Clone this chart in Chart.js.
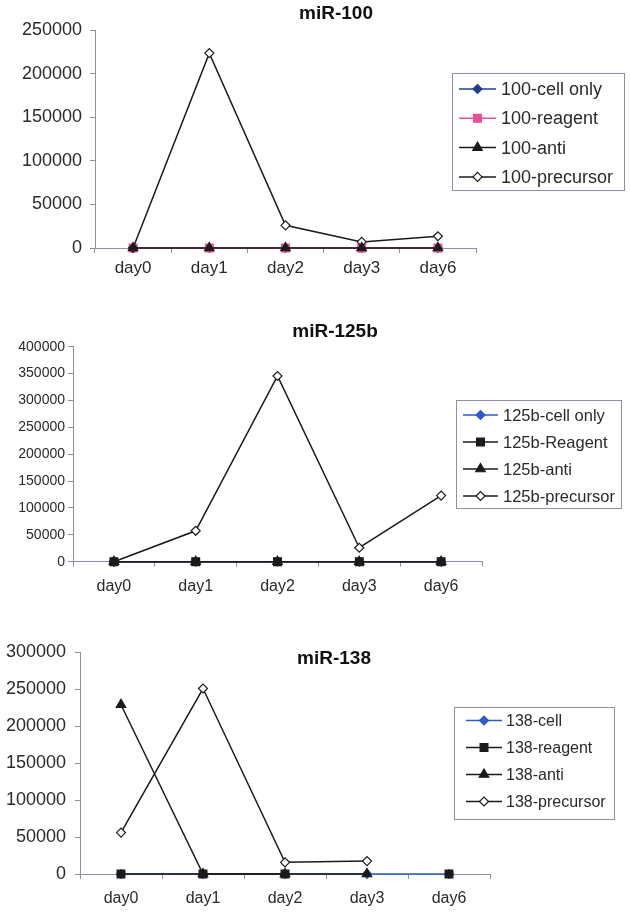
<!DOCTYPE html>
<html><head><meta charset="utf-8">
<script src="https://cdn.jsdelivr.net/npm/chart.js@4.4.1/dist/chart.umd.min.js"></script>
<style>
html,body{margin:0;padding:0;background:#fff;width:630px;height:912px;overflow:hidden;}
canvas{position:absolute;left:0;}
</style></head>
<body>
<canvas id="c1" width="630" height="300" style="top:0px"></canvas>
<canvas id="c2" width="630" height="300" style="top:300px"></canvas>
<canvas id="c3" width="630" height="312" style="top:600px"></canvas>
<script>
// ---------- data ----------
const days = ['day0', 'day1', 'day2', 'day3', 'day6'];

const title100 = 'miR-100';
const labels100 = ['100-cell only', '100-reagent', '100-anti', '100-precursor'];
const cellOnly100 = [0, 0, 0, 0, 0];
const reagent100 = [0, 0, 0, 0, 0];
const anti100 = [0, 0, 0, 0, 0];
const precursor100 = [0, 223500, 26000, 7000, 13500];
const yTicks100 = [0, 50000, 100000, 150000, 200000, 250000];

const title125 = 'miR-125b';
const labels125 = ['125b-cell only', '125b-Reagent', '125b-anti', '125b-precursor'];
const cellOnly125 = [0, 0, 0, 0, 0];
const reagent125 = [0, 0, 0, 0, 0];
const anti125 = [0, 0, 0, 0, 0];
const precursor125 = [0, 57500, 345500, 26000, 123000];
const yTicks125 = [0, 50000, 100000, 150000, 200000, 250000, 300000, 350000, 400000];

const title138 = 'miR-138';
const labels138 = ['138-cell', '138-reagent', '138-anti', '138-precursor'];
const cell138 = [0, 0, 0, 0, 0];
const reagent138 = [0, 0, 0, null, 0];
const anti138 = [229000, 0, 0, 0, null];
const precursor138 = [56000, 251000, 15800, 17500, null];
const yTicks138 = [0, 50000, 100000, 150000, 200000, 250000, 300000];

// ---------- styling ----------
const FONT = "'Liberation Sans', Arial, sans-serif";
const AXIS = '#8a92a0';
const TEXT = '#2a2a2a';
const BLACK = '#1a1a1a';
const NAVY = '#223f8e';
const BLUE = '#2d5cc6';
const PINK = '#ec4f9c';

function ds(label, data, color, pointStyle, fill, radius, order) {
  return {
    label, data, order, clip: false,
    borderColor: color, backgroundColor: fill,
    pointBackgroundColor: fill, pointBorderColor: color,
    pointStyle, pointRadius: radius, pointHoverRadius: radius,
    borderWidth: 1.5, pointBorderWidth: 1.2, tension: 0, spanGaps: false
  };
}

function drawMarker(ctx, d, x, y) {
  const r = d.pointRadius;
  ctx.save();
  ctx.fillStyle = d.pointBackgroundColor;
  ctx.strokeStyle = d.pointBorderColor;
  ctx.lineWidth = d.pointBorderWidth;
  ctx.beginPath();
  if (d.pointStyle === 'rectRot') {
    ctx.moveTo(x - r, y); ctx.lineTo(x, y - r); ctx.lineTo(x + r, y); ctx.lineTo(x, y + r);
  } else if (d.pointStyle === 'rect') {
    const s = Math.SQRT1_2 * r;
    ctx.rect(x - s, y - s, 2 * s, 2 * s);
  } else if (d.pointStyle === 'triangle') {
    let a = 0;
    ctx.moveTo(x + Math.sin(a) * r, y - Math.cos(a) * r);
    a += 2 * Math.PI / 3;
    ctx.lineTo(x + Math.sin(a) * r, y - Math.cos(a) * r);
    a += 2 * Math.PI / 3;
    ctx.lineTo(x + Math.sin(a) * r, y - Math.cos(a) * r);
  } else {
    ctx.arc(x, y, r, 0, Math.PI * 2);
  }
  ctx.closePath();
  ctx.fill();
  ctx.stroke();
  ctx.restore();
}

const placePlugin = {
  id: 'place',
  afterLayout(chart, args, opts) {
    const t = chart.titleBlock;
    if (t && opts.titleCx != null) {
      const half = Math.min(opts.titleCx, chart.width - opts.titleCx);
      t.left = opts.titleCx - half;
      t.right = opts.titleCx + half;
      t.width = 2 * half;
    }
  },
  afterDraw(chart, args, opts) {
    const L = opts.legend;
    if (!L) return;
    const ctx = chart.ctx;
    ctx.save();
    ctx.strokeStyle = AXIS;
    ctx.lineWidth = 1;
    ctx.strokeRect(L.left + 0.5, L.top + 0.5, L.width, L.height);
    chart.data.datasets.forEach((d, i) => {
      const y = L.top + L.first + i * L.gap;
      ctx.strokeStyle = d.borderColor;
      ctx.lineWidth = d.borderWidth;
      ctx.beginPath();
      ctx.moveTo(L.lineX0, y);
      ctx.lineTo(L.lineX1, y);
      ctx.stroke();
      drawMarker(ctx, d, (L.lineX0 + L.lineX1) / 2, y);
      ctx.fillStyle = TEXT;
      ctx.font = L.fontSize + 'px ' + FONT;
      ctx.textBaseline = 'middle';
      ctx.textAlign = 'left';
      ctx.fillText(d.label, L.textX, y + 1);
    });
    ctx.restore();
  }
};

function build(id, o) {
  return new Chart(document.getElementById(id), {
    type: 'line',
    data: { labels: days, datasets: o.datasets },
    options: {
      responsive: false,
      animation: false,
      devicePixelRatio: 1,
      layout: { padding: { left: 0, right: o.rightPad, top: 0, bottom: 0 } },
      plugins: {
        legend: { display: false },
        tooltip: { enabled: false },
        title: {
          display: true, text: o.title, color: '#111',
          font: { family: FONT, size: 19, weight: 'bold', lineHeight: 1.2 },
          padding: o.titlePad
        },
        place: { titleCx: o.titleCx, legend: o.legend }
      },
      scales: {
        x: {
          offset: true,
          ticks: { color: TEXT, font: { family: FONT, size: o.xFont }, padding: o.xPad, maxRotation: 0 },
          grid: { display: true, offset: true, drawOnChartArea: false, drawTicks: true, tickLength: 5, color: AXIS },
          border: { display: true, color: AXIS, width: 1 },
          afterFit: s => { s.height = o.xHeight; }
        },
        y: {
          min: o.yTicks[0], max: o.yTicks[o.yTicks.length - 1],
          afterBuildTicks: s => { s.ticks = o.yTicks.map(v => ({ value: v })); },
          ticks: { color: TEXT, font: { family: FONT, size: o.yFont }, padding: o.yPad, callback: v => String(v) },
          grid: { display: true, drawOnChartArea: false, drawTicks: true, tickLength: 5, color: AXIS },
          border: { display: true, color: AXIS, width: 1 },
          afterFit: s => { s.width = o.yWidth; }
        }
      }
    },
    plugins: [placePlugin]
  });
}

build('c1', {
  title: title100, titleCx: 336, titlePad: { top: 2, bottom: 5.2 },
  rightPad: 154, yWidth: 95, xHeight: 52, xFont: 17, yFont: 18, xPad: 5, yPad: 8,
  yTicks: yTicks100,
  legend: { left: 452, top: 73, width: 172, height: 117, first: 16, gap: 29.3, lineX0: 459, lineX1: 496, textX: 501, fontSize: 18 },
  datasets: [
    ds(labels100[0], cellOnly100, NAVY, 'rectRot', NAVY, 4.5, 3),
    ds(labels100[1], reagent100, PINK, 'rect', PINK, 5.5, 2),
    ds(labels100[2], anti100, BLACK, 'triangle', BLACK, 5.5, 0),
    ds(labels100[3], precursor100, BLACK, 'rectRot', '#ffffff', 4.5, 1)
  ]
});

build('c2', {
  title: title125, titleCx: 335, titlePad: { top: 20.6, bottom: 3.3 },
  rightPad: 148, yWidth: 73, xHeight: 38.3, xFont: 16, yFont: 14, xPad: 10, yPad: 3,
  yTicks: yTicks125,
  legend: { left: 456, top: 100, width: 165, height: 108, first: 15, gap: 27, lineX0: 463, lineX1: 498, textX: 503, fontSize: 16.5 },
  datasets: [
    ds(labels125[0], cellOnly125, BLUE, 'rectRot', BLUE, 4.5, 3),
    ds(labels125[1], reagent125, BLACK, 'rect', BLACK, 5.5, 0),
    ds(labels125[2], anti125, BLACK, 'triangle', BLACK, 5.5, 2),
    ds(labels125[3], precursor125, BLACK, 'rectRot', '#ffffff', 4.5, 1)
  ]
});

build('c3', {
  title: title138, titleCx: 334, titlePad: { top: 47.6, bottom: -18.1 },
  rightPad: 140, yWidth: 80, xHeight: 38, xFont: 16, yFont: 18, xPad: 10, yPad: 9,
  yTicks: yTicks138,
  legend: { left: 454, top: 107, width: 160, height: 112, first: 13.5, gap: 27, lineX0: 466, lineX1: 502, textX: 506, fontSize: 16 },
  datasets: [
    ds(labels138[0], cell138, BLUE, 'rectRot', BLUE, 4.5, 3),
    ds(labels138[1], reagent138, BLACK, 'rect', BLACK, 5.5, 0),
    ds(labels138[2], anti138, BLACK, 'triangle', BLACK, 5.5, 2),
    ds(labels138[3], precursor138, BLACK, 'rectRot', '#ffffff', 4.5, 1)
  ]
});
</script>
</body></html>
